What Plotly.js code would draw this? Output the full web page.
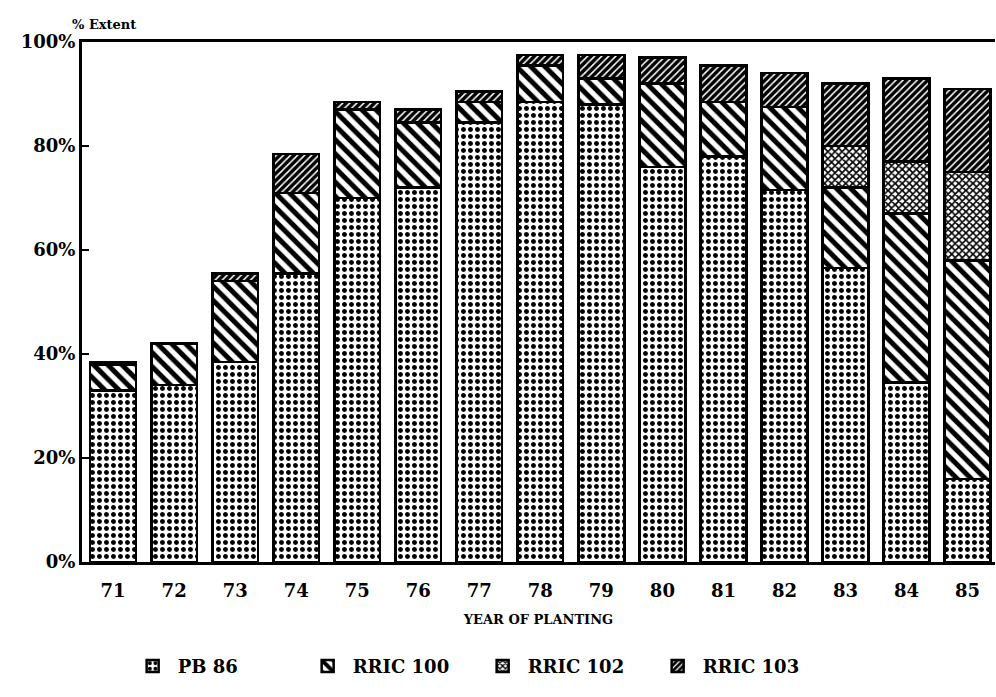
<!DOCTYPE html>
<html>
<head>
<meta charset="utf-8">
<script src="https://cdn.plot.ly/plotly-3.0.1.min.js"></script>
<style>html,body{margin:0;padding:0;background:#fff}#chart{width:996px;height:697px}</style>
</head>
<body>
<div id="chart"></div>
<script>
var years = ['71','72','73','74','75','76','77','78','79','80','81','82','83','84','85'];
var pb86    = [33, 34, 38.5, 55.5, 70, 72, 84.5, 88.5, 88, 76, 78, 71.5, 56.5, 34.5, 16];
var rric100 = [5, 8, 15.5, 15.5, 17, 12.5, 4, 7, 5, 16, 10.5, 16, 15.5, 32.5, 42];
var rric102 = [0, 0, 0, 0, 0, 0, 0, 0, 0, 0, 0, 0, 8, 10, 17];
var rric103 = [0.5, 0, 1.5, 7.5, 1.5, 2.5, 2, 2, 4.5, 5, 7, 6.5, 12, 16, 16];
var seriesNames = ['PB 86', 'RRIC 100', 'RRIC 102', 'RRIC 103'];

var fontFam = '"DejaVu Serif", "Liberation Serif", serif';
function mk(name, vals, shape, size, sol) {
  return {
    type: 'bar', x: years, y: vals, name: name,
    marker: {
      color: '#ffffff',
      line: {color: '#000', width: 2.5},
      pattern: {shape: shape, fgcolor: '#000', bgcolor: '#fff', fgopacity: 1, size: size, solidity: sol, fillmode: 'overlay'}
    },
    hoverinfo: 'x+y+name'
  };
}
var data = [
  mk(seriesNames[0], pb86, '.', 7, 0.4),
  mk(seriesNames[1], rric100, '\\', 10, 0.5),
  mk(seriesNames[2], rric102, 'x', 5, 0.55),
  mk(seriesNames[3], rric103, '/', 5, 0.7)
];
var layout = {
  width: 996, height: 697,
  margin: {l: 82, r: 1, t: 42, b: 135},
  barmode: 'stack', bargap: 0.25,
  paper_bgcolor: '#fff', plot_bgcolor: '#fff',
  showlegend: true,
  legend: {orientation: 'h', x: 0.05, xanchor: 'left', y: -0.165, yanchor: 'top',
           font: {family: fontFam, size: 18, color: '#000', weight: 'bold'}, itemwidth: 40,
           entrywidth: 120, entrywidthmode: 'pixels', traceorder: 'normal'},
  font: {family: fontFam, color: '#000'},
  xaxis: {
    type: 'category', range: [-0.51, 14.45],
    showline: true, linecolor: '#000', linewidth: 3, mirror: true,
    ticks: '', showgrid: false, ticklabelstandoff: 10,
    tickfont: {family: fontFam, size: 18, color: '#000', weight: 'bold'},
    title: {text: 'YEAR OF PLANTING', font: {family: fontFam, size: 13, color: '#000', weight: 'bold'}, standoff: 16}
  },
  yaxis: {
    range: [0, 100], tickvals: [0, 20, 40, 60, 80, 100],
    ticktext: ['0%', '20%', '40%', '60%', '80%', '100%'],
    showline: true, linecolor: '#000', linewidth: 3, mirror: false,
    ticks: 'inside', ticklen: 7, tickwidth: 2, tickcolor: '#000',
    showgrid: false, zeroline: false,
    tickfont: {family: fontFam, size: 18, color: '#000', weight: 'bold'}
  },
  annotations: [{
    text: '% Extent', xref: 'paper', yref: 'paper', x: -0.013, y: 1.0, xanchor: 'left', yanchor: 'bottom',
    yshift: 8, showarrow: false, font: {family: fontFam, size: 13, color: '#000', weight: 'bold'}
  }]
};
Plotly.newPlot('chart', data, layout, {displayModeBar: false});
</script>
</body>
</html>
